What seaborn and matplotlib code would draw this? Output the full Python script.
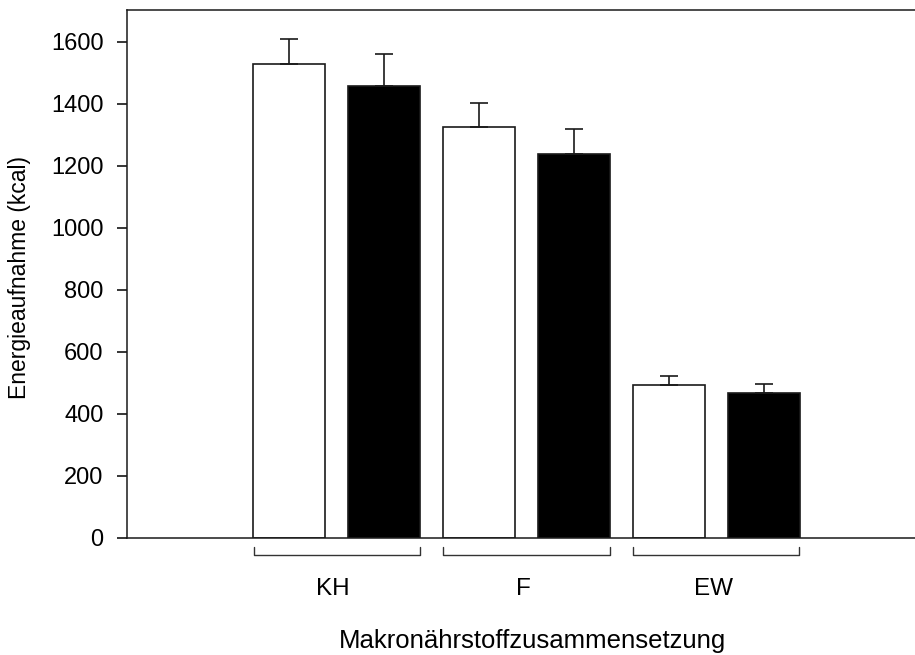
import matplotlib
matplotlib.use('Agg')
import matplotlib.pyplot as plt
import seaborn as sns
import pandas as pd

# values
groups = ['KH', 'F', 'EW']
conditions = ['A', 'B']
values_a = [1528, 1325, 495]
values_b = [1459, 1239, 467]
errors_a = [82, 78, 28]
errors_b = [103, 81, 30]
y_ticks = [0, 200, 400, 600, 800, 1000, 1200, 1400, 1600]

df = pd.DataFrame({
    'group': groups * 2,
    'cond': ['A'] * 3 + ['B'] * 3,
    'value': values_a + values_b,
    'err': errors_a + errors_b,
})

sns.set_style('ticks')
plt.rcParams['font.family'] = ['Liberation Sans', 'DejaVu Sans']
plt.rcParams['text.color'] = 'black'
plt.rcParams['axes.labelcolor'] = 'black'

fig = plt.figure(figsize=(9.15, 6.55), dpi=100)
ax = fig.add_axes([127 / 915, 117 / 655, 1 - 127 / 915, 528 / 655])

sns.barplot(data=df, x='group', y='value', hue='cond', order=groups,
            hue_order=conditions, palette=['white', 'black'],
            edgecolor='#1a1a1a', linewidth=1.2, width=1.0, gap=0.24,
            errorbar=None, legend=False, ax=ax)

# upper-only error bars at the centre of each bar
for patch, (_, row) in zip(ax.patches, df.iterrows()):
    xc = patch.get_x() + patch.get_width() / 2
    ax.errorbar(xc, row['value'], yerr=[[0], [row['err']]], fmt='none',
                ecolor='#1a1a1a', elinewidth=1.2, capsize=6.2, capthick=1.2)

ax.set_xlim(-1.103, 3.045)
ax.set_ylim(0, 1703)
ax.set_yticks(y_ticks)
ax.tick_params(axis='y', labelsize=17, length=7, width=1.1, pad=10, colors='black')
ax.set_xticks([])

for side in ['left', 'top', 'bottom']:
    ax.spines[side].set_visible(True)
    ax.spines[side].set_linewidth(1.1)
    ax.spines[side].set_color('#1a1a1a')
ax.spines['right'].set_visible(False)

# group brackets and labels under the axis
tr = ax.get_xaxis_transform()
for i, name in enumerate(groups):
    x0, x1 = i - 0.437, i + 0.437
    ax.plot([x0, x0, x1, x1], [-0.017, -0.032, -0.032, -0.017], color='#333333',
            lw=1.0, transform=tr, clip_on=False)
    ax.text(i - 0.018, -0.097, name, transform=tr, ha='center', va='center', fontsize=17.5)

ax.set_xlabel('Makronährstoffzusammensetzung', fontsize=18.5)
ax.xaxis.set_label_coords(0.514, -0.172)
ax.set_ylabel('Energieaufnahme (kcal)', fontsize=16.5)
ax.yaxis.label.set_va('center')
ax.yaxis.set_label_coords(-0.136, 0.493)

fig.savefig('out.png', dpi=100)
